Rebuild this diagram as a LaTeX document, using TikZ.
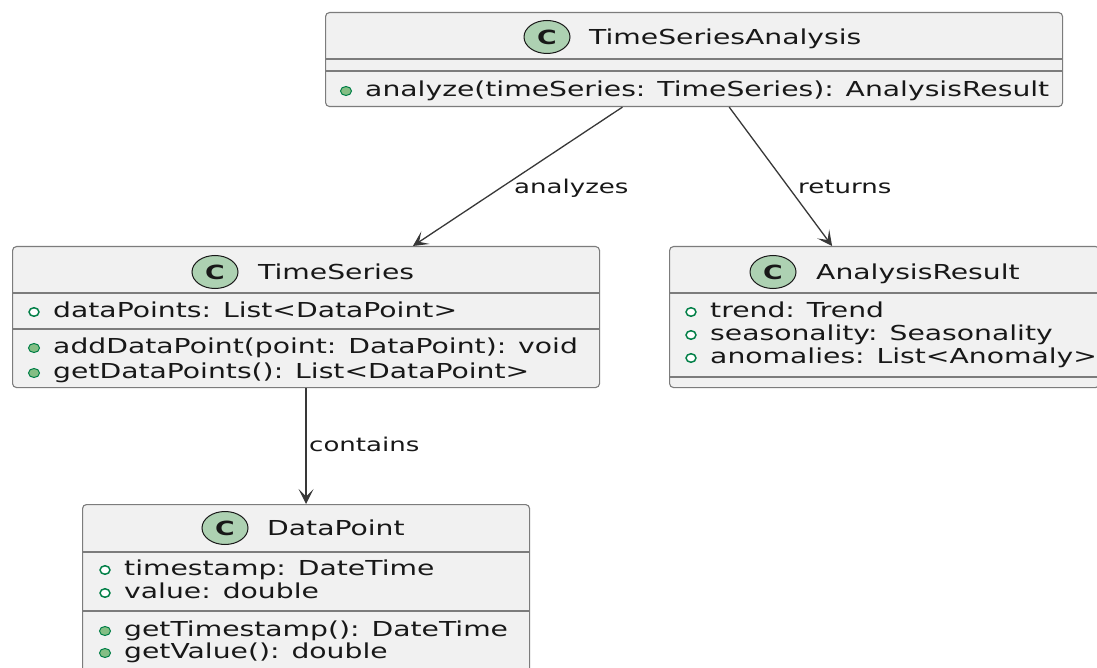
\documentclass[tikz,border=0pt]{standalone}
\usepackage{fontspec}
\setmainfont{DejaVu Sans}[FakeStretch=1.37]
\usetikzlibrary{arrows.meta,shapes.geometric}

\definecolor{boxfill}{HTML}{F1F1F1}
\definecolor{boxline}{HTML}{7C7C7C}
\definecolor{spotfill}{HTML}{ADD1B2}
\definecolor{icongreen}{HTML}{038048}
\definecolor{iconfill}{HTML}{84BE84}
\definecolor{linkcol}{HTML}{383838}
\definecolor{textcol}{HTML}{181818}

\tikzset{
  classbox/.style={draw=boxline, fill=boxfill, line width=1.1pt,
    rounded corners=4pt, anchor=north west, inner sep=0pt},
  compline/.style={draw=boxline, line width=1.1pt},
  spot/.style={ellipse, draw=textcol, fill=spotfill, line width=1pt,
    minimum width=46pt, minimum height=33pt, inner sep=0pt,
    font=\fontsize{19.5}{20}\selectfont\bfseries, text=textcol},
  classname/.style={anchor=base west, inner sep=0pt, text=textcol,
    font=\fontsize{20.6}{24}\selectfont},
  member/.style={anchor=base west, inner sep=0pt, text=textcol,
    font=\fontsize{20.6}{24}\selectfont},
  fieldicon/.style={ellipse, draw=icongreen, line width=1.5pt, fill=white,
    minimum width=10pt, minimum height=8.5pt, inner sep=0pt},
  methodicon/.style={ellipse, draw=icongreen, line width=1pt, fill=iconfill,
    minimum width=11pt, minimum height=9pt, inner sep=0pt},
  link/.style={draw=linkcol, line width=1.3pt,
    -{Stealth[length=15pt, width=15pt, inset=7.5pt]}},
  linklabel/.style={anchor=base west, inner sep=0pt, text=textcol,
    font=\fontsize{19}{22}\selectfont},
}

\begin{document}
\begin{tikzpicture}[x=1pt, y=-1pt]
\useasboundingbox (0,0) rectangle (1097,668);
\clip (0,0) rectangle (1097,668);
\fill[white] (0,0) rectangle (1097,668);

% ---- TimeSeriesAnalysis ----
\node[classbox, minimum width=737pt, minimum height=94pt] (tsa) at (325,12) {};
\draw[compline] ([yshift=-47pt]tsa.north west) -- ([yshift=-47pt]tsa.north east);
\draw[compline] ([yshift=-59pt]tsa.north west) -- ([yshift=-59pt]tsa.north east);
\node[spot] (tsa-spot) at (547,37) {C};
\node[classname] (tsa-name) at (589,44.5) {TimeSeriesAnalysis};
\node[methodicon] (tsa-i1) at (346,91) {};
\node[member] (tsa-m1) at (365,96.5) {analyze(timeSeries: TimeSeries): AnalysisResult};

% ---- TimeSeries ----
\node[classbox, minimum width=587pt, minimum height=141pt] (ts) at (12,246) {};
\draw[compline] ([yshift=-47pt]ts.north west) -- ([yshift=-47pt]ts.north east);
\draw[compline] ([yshift=-83pt]ts.north west) -- ([yshift=-83pt]ts.north east);
\node[spot] (ts-spot) at (215,272) {C};
\node[classname] (ts-name) at (258,279.5) {TimeSeries};
\node[fieldicon] (ts-i1) at (34,312) {};
\node[member] (ts-f1) at (53,317.5) {dataPoints: List<DataPoint>};
\node[methodicon] (ts-i2) at (34,348) {};
\node[member] (ts-m1) at (53,353.5) {addDataPoint(point: DataPoint): void};
\node[methodicon] (ts-i3) at (34,373) {};
\node[member] (ts-m2) at (53,378.5) {getDataPoints(): List<DataPoint>};

% ---- AnalysisResult ----
\node[classbox, minimum width=430pt, minimum height=141pt] (ar) at (669,246) {};
\draw[compline] ([yshift=-47pt]ar.north west) -- ([yshift=-47pt]ar.north east);
\draw[compline] ([yshift=-131pt]ar.north west) -- ([yshift=-131pt]ar.north east);
\node[spot] (ar-spot) at (773,272) {C};
\node[classname] (ar-name) at (816,279.5) {AnalysisResult};
\node[fieldicon] (ar-i1) at (691,312) {};
\node[member] (ar-f1) at (710,317.5) {trend: Trend};
\node[fieldicon] (ar-i2) at (691,335) {};
\node[member] (ar-f2) at (710,340.5) {seasonality: Seasonality};
\node[fieldicon] (ar-i3) at (691,358) {};
\node[member] (ar-f3) at (710,363.5) {anomalies: List<Anomaly>};

% ---- DataPoint ----
\node[classbox, minimum width=447pt, minimum height=169pt] (dp) at (82,504) {};
\draw[compline] ([yshift=-48pt]dp.north west) -- ([yshift=-48pt]dp.north east);
\draw[compline] ([yshift=-107pt]dp.north west) -- ([yshift=-107pt]dp.north east);
\node[spot] (dp-spot) at (225,528) {C};
\node[classname] (dp-name) at (267,535.5) {DataPoint};
\node[fieldicon] (dp-i1) at (105,570) {};
\node[member] (dp-f1) at (124,575.5) {timestamp: DateTime};
\node[fieldicon] (dp-i2) at (105,593) {};
\node[member] (dp-f2) at (124,598.5) {value: double};
\node[methodicon] (dp-i3) at (105,631) {};
\node[member] (dp-m1) at (124,636.5) {getTimestamp(): DateTime};
\node[methodicon] (dp-i4) at (105,653) {};
\node[member] (dp-m2) at (124,658.5) {getValue(): double};

% ---- associations ----
\draw[link] (tsa) -- (ts);
\draw[link] (tsa) -- (ar);
\draw[link] (ts) -- (dp);
\node[linklabel] (lbl-analyzes) at (514,193.5) {analyzes};
\node[linklabel] (lbl-returns) at (798,193.5) {returns};
\node[linklabel] (lbl-contains) at (309,451.5) {contains};
\end{tikzpicture}
\end{document}
